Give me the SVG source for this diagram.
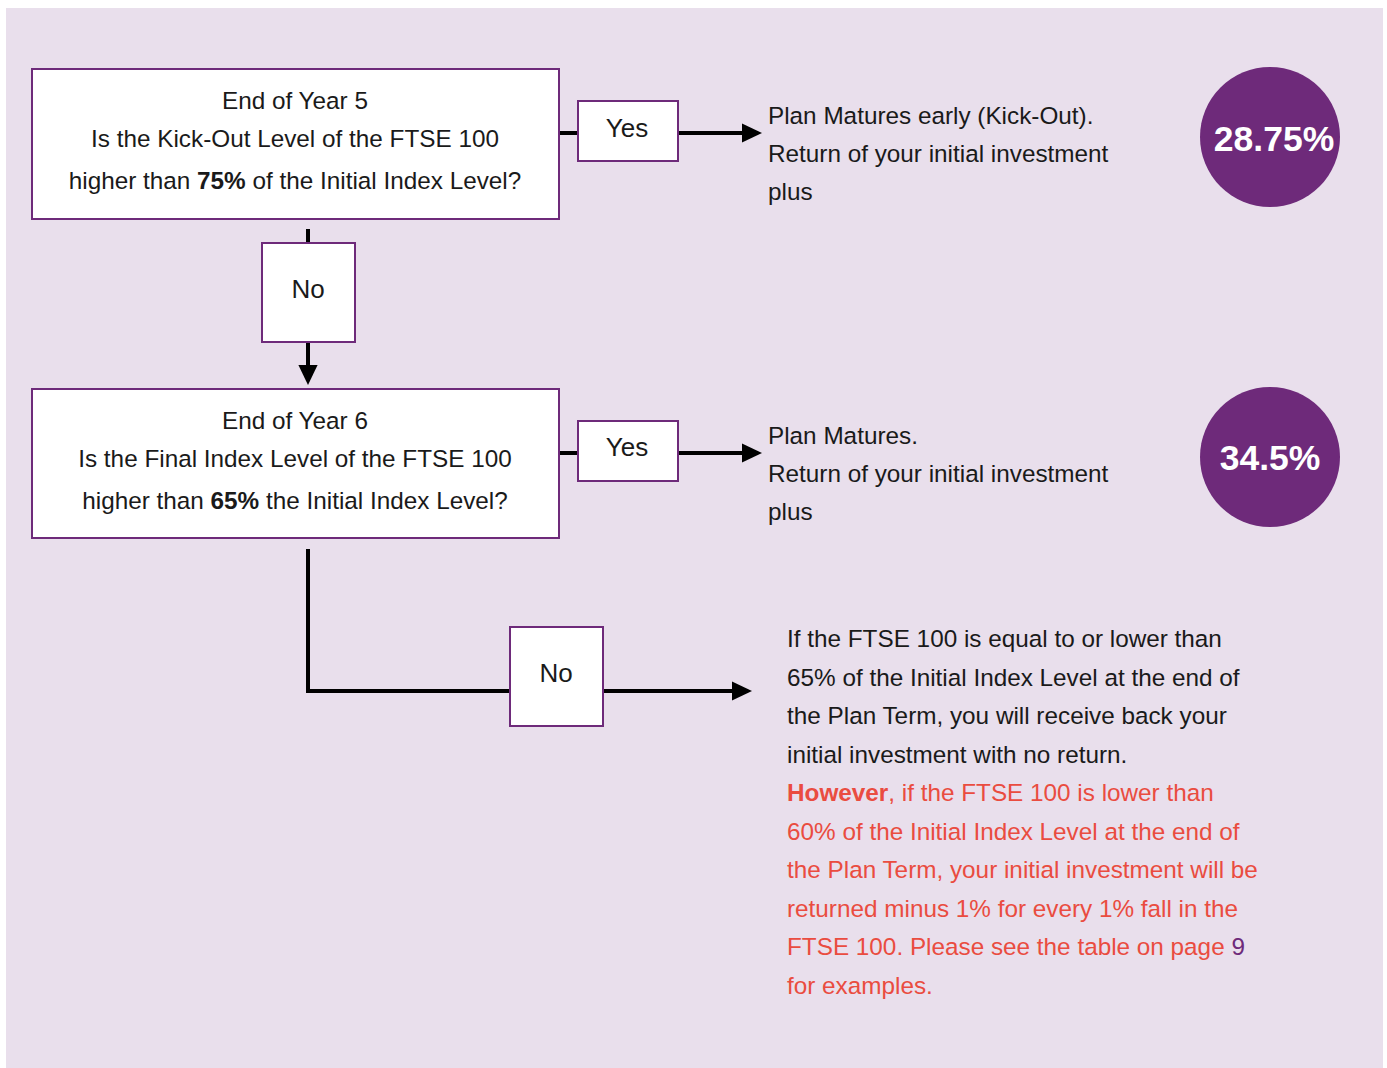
<svg xmlns="http://www.w3.org/2000/svg" width="1387" height="1068" viewBox="0 0 1387 1068">
<defs>
<marker id="arr" markerWidth="5.5" markerHeight="5" refX="4" refY="2.4" orient="auto" markerUnits="strokeWidth">
<path d="M0,0 L5,2.4 L0,4.8 Z" fill="#000"/>
</marker>
<style>
.box{fill:#fff;stroke:#6e2a7a;stroke-width:2}
.t{font-family:"Liberation Sans",Arial,sans-serif;font-size:24.3px;fill:#1a1a1a}
.lbl{font-size:26px}
.c{text-anchor:middle}
.red{fill:#ea4c40}
.ln{stroke:#000;stroke-width:4;fill:none}
.circ{fill:#6e2a7a}
.ct{font-family:"Liberation Sans",Arial,sans-serif;font-size:35.5px;font-weight:bold;fill:#fff;text-anchor:middle}
</style>
</defs>
<rect x="0" y="0" width="1387" height="1068" fill="#fff"/>
<rect x="6" y="8" width="1377" height="1060" fill="#e9dfec"/>
<g id="connectors">
<line class="ln" x1="559" y1="133" x2="577" y2="133"/>
<line class="ln" x1="678" y1="133" x2="758" y2="133" marker-end="url(#arr)"/>
<line class="ln" x1="308" y1="229" x2="308" y2="242"/>
<line class="ln" x1="308" y1="342" x2="308" y2="381" marker-end="url(#arr)"/>
<line class="ln" x1="559" y1="453" x2="577" y2="453"/>
<line class="ln" x1="678" y1="453" x2="758" y2="453" marker-end="url(#arr)"/>
<polyline class="ln" points="308,549 308,691 510,691"/>
<line class="ln" x1="603" y1="691" x2="748" y2="691" marker-end="url(#arr)"/>
</g>
<g id="q1">
<rect class="box" x="32" y="69" width="527" height="150"/>
<text class="t c" x="295" y="109">End of Year 5</text>
<text class="t c" x="295" y="147">Is the Kick-Out Level of the FTSE 100</text>
<text class="t c" x="295" y="189">higher than <tspan font-weight="bold">75%</tspan> of the Initial Index Level?</text>
</g>
<g id="yes1">
<rect class="box" x="578" y="101" width="100" height="60"/>
<text class="t lbl c" x="627" y="137">Yes</text>
</g>
<g id="no1">
<rect class="box" x="262" y="243" width="93" height="99"/>
<text class="t lbl c" x="308" y="298">No</text>
</g>
<g id="q2">
<rect class="box" x="32" y="389" width="527" height="149"/>
<text class="t c" x="295" y="429">End of Year 6</text>
<text class="t c" x="295" y="467">Is the Final Index Level of the FTSE 100</text>
<text class="t c" x="295" y="509">higher than <tspan font-weight="bold">65%</tspan> the Initial Index Level?</text>
</g>
<g id="yes2">
<rect class="box" x="578" y="421" width="100" height="60"/>
<text class="t lbl c" x="627" y="456">Yes</text>
</g>
<g id="no2">
<rect class="box" x="510" y="627" width="93" height="99"/>
<text class="t lbl c" x="556" y="682">No</text>
</g>
<g id="r1">
<text class="t" x="768" y="124">Plan Matures early (Kick-Out).</text>
<text class="t" x="768" y="162">Return of your initial investment</text>
<text class="t" x="768" y="200">plus</text>
</g>
<g id="c1">
<circle class="circ" cx="1270" cy="137" r="70"/>
<text class="ct" x="1274" y="151">28.75%</text>
</g>
<g id="r2">
<text class="t" x="768" y="444">Plan Matures.</text>
<text class="t" x="768" y="482">Return of your initial investment</text>
<text class="t" x="768" y="520">plus</text>
</g>
<g id="c2">
<circle class="circ" cx="1270" cy="457" r="70"/>
<text class="ct" x="1270" y="470">34.5%</text>
</g>
<g id="r3">
<text class="t" x="787" y="647">If the FTSE 100 is equal to or lower than</text>
<text class="t" x="787" y="686">65% of the Initial Index Level at the end of</text>
<text class="t" x="787" y="724">the Plan Term, you will receive back your</text>
<text class="t" x="787" y="763">initial investment with no return.</text>
<text class="t red" x="787" y="801"><tspan font-weight="bold">However</tspan>, if the FTSE 100 is lower than</text>
<text class="t red" x="787" y="840">60% of the Initial Index Level at the end of</text>
<text class="t red" x="787" y="878">the Plan Term, your initial investment will be</text>
<text class="t red" x="787" y="917">returned minus 1% for every 1% fall in the</text>
<text class="t red" x="787" y="955">FTSE 100. Please see the table on page <tspan fill="#6e2a7a">9</tspan></text>
<text class="t red" x="787" y="994">for examples.</text>
</g>
</svg>
